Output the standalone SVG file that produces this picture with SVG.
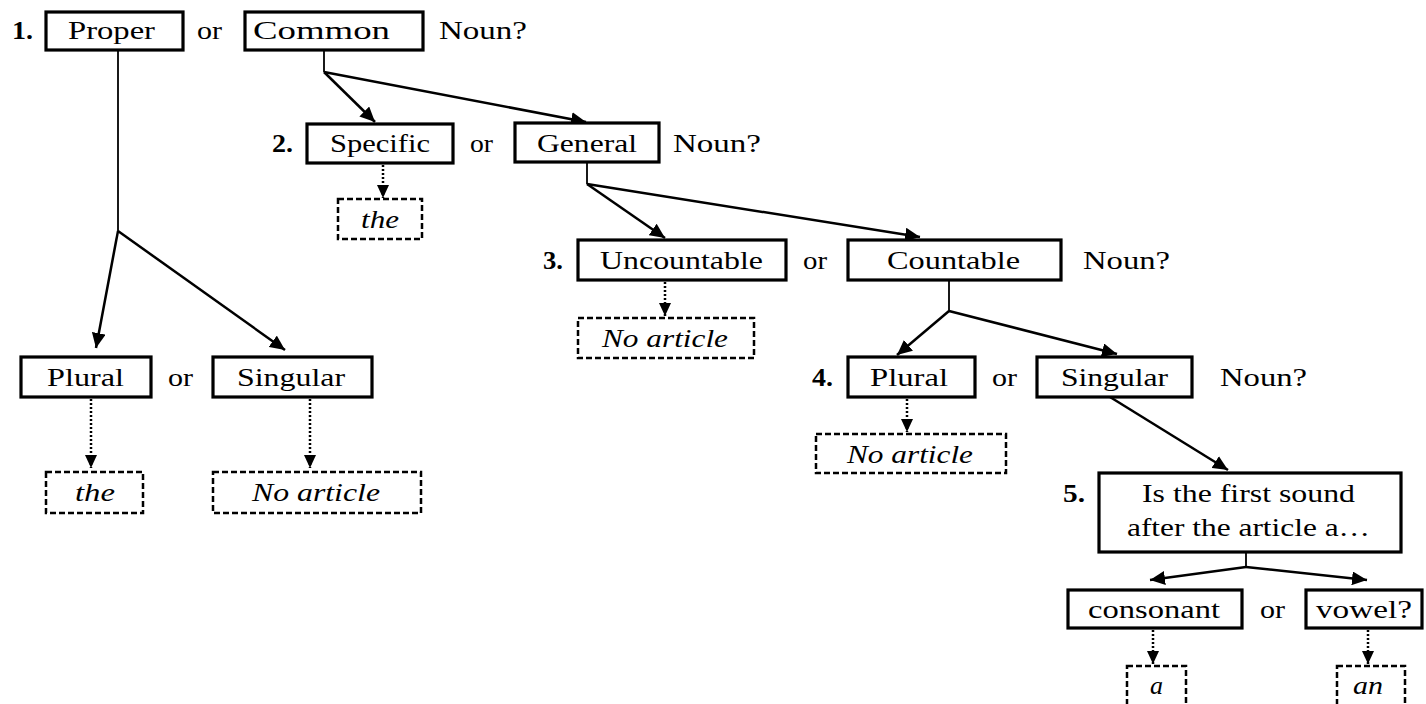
<svg xmlns="http://www.w3.org/2000/svg" width="1426" height="704" viewBox="0 0 1426 704">
<style>
text{font-family:"Liberation Serif","Times New Roman",Times,serif;font-size:26px;fill:#000}
.b{font-weight:bold}
.i{font-style:italic}
.box{fill:#fff;stroke:#000;stroke-width:3.2}
.dbox{fill:#fff;stroke:#000;stroke-width:2.5;stroke-dasharray:6 3}
.ln{fill:none;stroke:#000;stroke-width:2.5}
.thin{fill:none;stroke:#000;stroke-width:1.8}
.dot{fill:none;stroke:#000;stroke-width:2.5;stroke-dasharray:2 2}
</style>
<defs>
<marker id="ah" markerUnits="userSpaceOnUse" markerWidth="16" markerHeight="14" refX="15" refY="7" orient="auto">
<path d="M0,0 L15,7 L0,14 z" fill="#000"/>
</marker>
<marker id="ahs" markerUnits="userSpaceOnUse" markerWidth="14" markerHeight="12" refX="13" refY="6" orient="auto">
<path d="M0,0 L13,6 L0,12 z" fill="#000"/>
</marker>
</defs>
<rect width="1426" height="704" fill="#fff"/>

<g id="connectors">
<path class="thin" d="M118,50 L118,231"/>
<path class="ln" d="M118,231 L96,348" marker-end="url(#ah)"/>
<path class="ln" d="M118,231 L285,350" marker-end="url(#ah)"/>
<path class="thin" d="M324,50 L324,72"/>
<path class="ln" d="M324,72 L375,122" marker-end="url(#ah)"/>
<path class="ln" d="M324,72 L586,122" marker-end="url(#ah)"/>
<path class="thin" d="M587,162 L587,184"/>
<path class="ln" d="M587,184 L665,238" marker-end="url(#ah)"/>
<path class="ln" d="M587,184 L920,237" marker-end="url(#ah)"/>
<path class="thin" d="M949,280 L949,311"/>
<path class="ln" d="M949,311 L897,355" marker-end="url(#ah)"/>
<path class="ln" d="M949,311 L1117,354" marker-end="url(#ah)"/>
<path class="ln" d="M1110,397 L1228,470" marker-end="url(#ah)"/>
<path class="thin" d="M1246,552 L1246,567"/>
<path class="ln" d="M1246,567 L1150,580" marker-end="url(#ah)"/>
<path class="ln" d="M1246,567 L1367,580" marker-end="url(#ah)"/>
<path class="dot" d="M91,399 L91,468" marker-end="url(#ahs)"/>
<path class="dot" d="M310,399 L310,468" marker-end="url(#ahs)"/>
<path class="dot" d="M383,165 L383,198" marker-end="url(#ahs)"/>
<path class="dot" d="M665,282 L665,316" marker-end="url(#ahs)"/>
<path class="dot" d="M907,399 L907,432" marker-end="url(#ahs)"/>
<path class="dot" d="M1153,630 L1153,664" marker-end="url(#ahs)"/>
<path class="dot" d="M1368,630 L1368,664" marker-end="url(#ahs)"/>
</g>

<g id="q1">
<text class="b" x="12" y="39" textLength="21" lengthAdjust="spacingAndGlyphs">1.</text>
<text x="197" y="39" textLength="25" lengthAdjust="spacingAndGlyphs">or</text>
<text x="439" y="39" textLength="88" lengthAdjust="spacingAndGlyphs">Noun?</text>
</g>
<g id="proper"><rect class="box" x="46" y="12" width="137" height="38"/><text x="68" y="39" textLength="87" lengthAdjust="spacingAndGlyphs">Proper</text></g>
<g id="common"><rect class="box" x="245" y="12" width="178" height="38"/><text x="253" y="39" textLength="137" lengthAdjust="spacingAndGlyphs">Common</text></g>

<g id="q2">
<text class="b" x="272" y="152" textLength="21" lengthAdjust="spacingAndGlyphs">2.</text>
<text x="470" y="152" textLength="23" lengthAdjust="spacingAndGlyphs">or</text>
<text x="673" y="152" textLength="88" lengthAdjust="spacingAndGlyphs">Noun?</text>
</g>
<g id="specific"><rect class="box" x="307" y="124" width="146" height="39"/><text x="330" y="152" textLength="100" lengthAdjust="spacingAndGlyphs">Specific</text></g>
<g id="general"><rect class="box" x="515" y="123" width="144" height="39"/><text x="537" y="152" textLength="100" lengthAdjust="spacingAndGlyphs">General</text></g>
<g id="the2"><rect class="dbox" x="338" y="199" width="84" height="40"/><text class="i" x="361" y="228" textLength="38" lengthAdjust="spacingAndGlyphs">the</text></g>

<g id="q3">
<text class="b" x="543" y="269" textLength="20" lengthAdjust="spacingAndGlyphs">3.</text>
<text x="803" y="269" textLength="24" lengthAdjust="spacingAndGlyphs">or</text>
<text x="1083" y="269" textLength="87" lengthAdjust="spacingAndGlyphs">Noun?</text>
</g>
<g id="uncountable"><rect class="box" x="578" y="240" width="208" height="40"/><text x="600" y="269" textLength="163" lengthAdjust="spacingAndGlyphs">Uncountable</text></g>
<g id="countable"><rect class="box" x="848" y="240" width="213" height="40"/><text x="887" y="269" textLength="133" lengthAdjust="spacingAndGlyphs">Countable</text></g>
<g id="noarticle3"><rect class="dbox" x="578" y="318" width="176" height="40"/><text class="i" x="602" y="347" textLength="126" lengthAdjust="spacingAndGlyphs">No article</text></g>

<g id="qL"><text x="168" y="386" textLength="25" lengthAdjust="spacingAndGlyphs">or</text></g>
<g id="pluralL"><rect class="box" x="21" y="357" width="130" height="40"/><text x="47" y="386" textLength="77" lengthAdjust="spacingAndGlyphs">Plural</text></g>
<g id="singularL"><rect class="box" x="213" y="357" width="159" height="40"/><text x="237" y="386" textLength="108" lengthAdjust="spacingAndGlyphs">Singular</text></g>
<g id="theL"><rect class="dbox" x="46" y="472" width="97" height="41"/><text class="i" x="75" y="501" textLength="40" lengthAdjust="spacingAndGlyphs">the</text></g>
<g id="noarticleL"><rect class="dbox" x="213" y="472" width="208" height="41"/><text class="i" x="252" y="501" textLength="128" lengthAdjust="spacingAndGlyphs">No article</text></g>

<g id="q4">
<text class="b" x="812" y="386" textLength="21" lengthAdjust="spacingAndGlyphs">4.</text>
<text x="992" y="386" textLength="25" lengthAdjust="spacingAndGlyphs">or</text>
<text x="1220" y="386" textLength="87" lengthAdjust="spacingAndGlyphs">Noun?</text>
</g>
<g id="plural4"><rect class="box" x="848" y="357" width="127" height="40"/><text x="870" y="386" textLength="78" lengthAdjust="spacingAndGlyphs">Plural</text></g>
<g id="singular4"><rect class="box" x="1037" y="357" width="155" height="40"/><text x="1061" y="386" textLength="107" lengthAdjust="spacingAndGlyphs">Singular</text></g>
<g id="noarticle4"><rect class="dbox" x="816" y="434" width="190" height="39"/><text class="i" x="847" y="463" textLength="126" lengthAdjust="spacingAndGlyphs">No article</text></g>

<g id="q5">
<text class="b" x="1063" y="502" textLength="22" lengthAdjust="spacingAndGlyphs">5.</text>
<rect class="box" x="1099" y="473" width="302" height="79"/>
<text x="1142" y="502" textLength="213" lengthAdjust="spacingAndGlyphs">Is the first sound</text>
<text x="1127" y="536" textLength="243" lengthAdjust="spacingAndGlyphs">after the article a…</text>
</g>
<g id="q6"><text x="1260" y="618" textLength="25" lengthAdjust="spacingAndGlyphs">or</text></g>
<g id="consonant"><rect class="box" x="1068" y="590" width="174" height="38"/><text x="1088" y="618" textLength="132" lengthAdjust="spacingAndGlyphs">consonant</text></g>
<g id="vowel"><rect class="box" x="1306" y="590" width="116" height="38"/><text x="1316" y="618" textLength="96" lengthAdjust="spacingAndGlyphs">vowel?</text></g>
<g id="a"><rect class="dbox" x="1127" y="666" width="59" height="46"/><text class="i" x="1150" y="694" textLength="13" lengthAdjust="spacingAndGlyphs">a</text></g>
<g id="an"><rect class="dbox" x="1337" y="666" width="68" height="46"/><text class="i" x="1353" y="694" textLength="30" lengthAdjust="spacingAndGlyphs">an</text></g>
</svg>
